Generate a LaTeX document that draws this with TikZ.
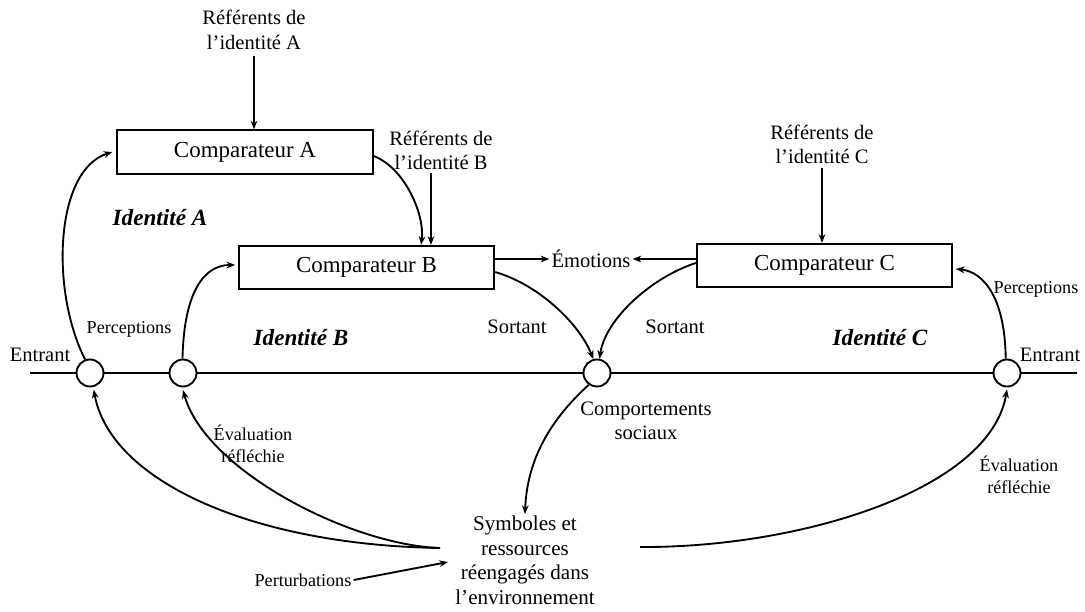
\documentclass[tikz,border=0pt]{standalone}
\usepackage{fontspec}
\setmainfont{Liberation Serif}
\usetikzlibrary{arrows.meta}
\begin{document}
\begin{tikzpicture}[x=0.75pt,y=-0.75pt,
  line width=1.4pt,
  arr/.style={-{Stealth[length=6.5pt,width=5pt]}},
  cmpbox/.style={draw,line width=1.5pt,minimum width=191.5pt,minimum height=32.5pt,
    inner sep=0pt,font=\fontsize{17.2}{20}\selectfont},
  junction/.style={draw,circle,fill=white,minimum size=20.25pt,inner sep=0pt,line width=1.4pt},
  lbl/.style={inner sep=1pt,align=center,font=\fontsize{15.4}{18.2}\selectfont},
  small/.style={inner sep=1pt,align=center,font=\fontsize{13.6}{16.5}\selectfont},
  ident/.style={inner sep=1pt,font=\fontsize{17.4}{20}\selectfont\bfseries\itshape},
]
\useasboundingbox (0,0) rectangle (1085,611);

% comparators
\node[cmpbox] (cA) at (245,152) {Comparateur A};
\node[cmpbox] (cB) at (366.5,267.5) {Comparateur B};
\node[cmpbox] (cC) at (824.5,265.5) {Comparateur C};

% identity standards
\node[lbl] (refA) at (254,30) {Référents de\\l’identité A};
\node[lbl] (refB) at (441,150) {Référents de\\l’identité B};
\node[lbl] (refC) at (822,144) {Référents de\\l’identité C};

% identity names
\node[ident] (idA) at (160,218) {Identité A};
\node[ident] (idB) at (301,338) {Identité B};
\node[ident] (idC) at (880,338) {Identité C};

% labels
\node[lbl] (emo) at (591,259) {Émotions};
\node[small] (percL) at (129,329) {Perceptions};
\node[small] (percR) at (1036,289) {Perceptions};
\node[lbl] (entL) at (40,355) {Entrant};
\node[lbl] (entR) at (1050,355) {Entrant};
\node[lbl] (sortL) at (517,327) {Sortant};
\node[lbl] (sortR) at (675,327) {Sortant};
\node[lbl] (comp) at (646,421) {Comportements\\sociaux};
\node[lbl,anchor=north,font=\fontsize{15.8}{18.4}\selectfont] (sym) at (525,514)
  {Symboles et\\ressources\\réengagés dans\\l’environnement};
\node[small] (evalL) at (253,444) {Évaluation\\réfléchie};
\node[small] (evalR) at (1019,475) {Évaluation\\réfléchie};
\node[small] (pert) at (303,580) {Perturbations};

% junctions on the main line
\node[junction] (c1) at (90,373) {};
\node[junction] (c2) at (183,373) {};
\node[junction] (c3) at (597,373) {};
\node[junction] (c4) at (1007,373) {};
\coordinate (lineL) at (30,373);
\coordinate (lineR) at (1077,373);
\draw (lineL) -- (c1) -- (c2) -- (c3) -- (c4) -- (lineR);

% connector ends around the environment node
\coordinate (symL) at (440,548);
\coordinate (symR) at (640,547);
\coordinate (symP) at (448,562);
\coordinate (Btop) at ([xshift=40.9pt]cB.north);
\coordinate (refBfoot) at ([xshift=-7.5pt,yshift=-1pt]refB.south);

% standards into comparators
\draw[arr] ([yshift=-3pt]refA.south) -- (refA.south |- cA.north);
\draw[arr] (refBfoot) -- (refBfoot |- cB.north);
\draw[arr] ([yshift=-2pt]refC.south) -- (refC.south |- cC.north);

% comparator outputs
\draw[arr] ([yshift=-3pt]cA.east) .. controls (405,168) and (425,215) .. (Btop);
\draw[arr] (cB.east |- emo.west) -- (emo.west);
\draw[arr] (cC.west |- emo.east) -- (emo.east);
\draw[arr] ([yshift=-3.4pt]cB.east) .. controls (540,285) and (580,325) .. (c3.105);
\draw[arr] ([yshift=1.9pt]cC.west) .. controls (650,278) and (605,320) .. (c3.80);

% perceptions
\draw[arr] (c1.110) .. controls (50,290) and (55,170) .. ([xshift=-3pt]cA.west);
\draw[arr] (c2.92) .. controls (184,290) and (205,265) .. ([xshift=-2pt,yshift=1.9pt]cB.west);
\draw[arr] (c4.95) .. controls (1005,300) and (985,272) .. ([xshift=2pt,yshift=-2.6pt]cC.east);

% social behaviour and reflected appraisals
\draw[arr] (c3.235) .. controls (550,420) and (527,460) .. (sym.north);
\draw[arr] (symL) .. controls (250,545) and (110,480) .. ([yshift=-2pt]c1.-75);
\draw[arr] (symL) .. controls (350,545) and (205,470) .. ([yshift=-2pt]c2.south);
\draw[arr] (symR) .. controls (800,548) and (990,490) .. ([yshift=-1.5pt]c4.south);
\draw[arr] (pert.east) -- (symP);
\end{tikzpicture}
\end{document}
